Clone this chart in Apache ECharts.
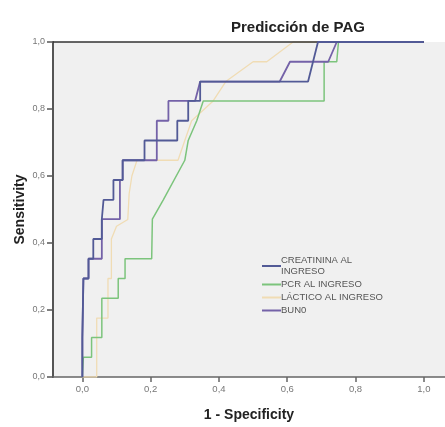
<!DOCTYPE html>
<html>
<head>
<meta charset="utf-8">
<script src="https://cdn.jsdelivr.net/npm/echarts@6/dist/echarts.min.js"></script>
<style>
  html, body { margin: 0; padding: 0; background: #fff; }
  #chart { width: 445px; height: 427px; }
</style>
</head>
<body>
<div id="chart"></div>
<script>
// nombres de las curvas (leyenda)
const seriesNames = ['CREATININA AL INGRESO', 'PCR AL INGRESO', 'LÁCTICO AL INGRESO', 'BUN0'];

// curvas ROC: 1 - especificidad (x) y sensibilidad (y)
const creatininaX = [0, 0, 0.003, 0.003, 0.018, 0.018, 0.032, 0.032, 0.057, 0.057, 0.062, 0.062, 0.091, 0.091, 0.118, 0.118, 0.182, 0.182, 0.278, 0.278, 0.31, 0.31, 0.345, 0.345, 0.661, 0.69, 1.0];
const creatininaY = [0, 0.118, 0.118, 0.294, 0.294, 0.353, 0.353, 0.412, 0.412, 0.471, 0.471, 0.529, 0.529, 0.588, 0.588, 0.647, 0.647, 0.706, 0.706, 0.765, 0.765, 0.824, 0.824, 0.882, 0.882, 1.0, 1.0];

const pcrX = [0, 0.003, 0.003, 0.027, 0.027, 0.057, 0.057, 0.105, 0.105, 0.125, 0.125, 0.203, 0.205, 0.237, 0.3, 0.31, 0.335, 0.354, 0.708, 0.708, 0.745, 0.75, 1.0];
const pcrY = [0, 0, 0.059, 0.059, 0.118, 0.118, 0.235, 0.235, 0.294, 0.294, 0.353, 0.353, 0.471, 0.529, 0.647, 0.706, 0.765, 0.824, 0.824, 0.941, 0.941, 1.0, 1.0];

const lacticoX = [0, 0.042, 0.042, 0.075, 0.075, 0.085, 0.085, 0.1, 0.133, 0.137, 0.145, 0.16, 0.28, 0.3, 0.32, 0.383, 0.42, 0.5, 0.54, 0.617, 1.0];
const lacticoY = [0, 0, 0.176, 0.176, 0.294, 0.294, 0.412, 0.45, 0.47, 0.547, 0.6, 0.647, 0.647, 0.706, 0.765, 0.824, 0.882, 0.941, 0.941, 1.0, 1.0];

const bunX = [0, 0, 0.003, 0.003, 0.018, 0.018, 0.057, 0.057, 0.11, 0.11, 0.118, 0.118, 0.218, 0.218, 0.252, 0.252, 0.33, 0.345, 0.578, 0.608, 0.72, 0.745, 1.0];
const bunY = [0, 0.118, 0.118, 0.294, 0.294, 0.353, 0.353, 0.471, 0.471, 0.588, 0.588, 0.647, 0.647, 0.765, 0.765, 0.824, 0.824, 0.882, 0.882, 0.941, 0.941, 1.0, 1.0];

// marcas de los ejes
const xTicks = [0, 0.2, 0.4, 0.6, 0.8, 1.0];

const pairs = (xs, ys) => xs.map((x, i) => [x, ys[i]]);
const comma = v => v.toFixed(1).replace('.', ',');

const chart = echarts.init(document.getElementById('chart'));

const lineSeries = (name, xs, ys, color, width, z) => ({
  name: name,
  type: 'line',
  data: pairs(xs, ys),
  showSymbol: false,
  symbol: 'none',
  z: z,
  lineStyle: { color: color, width: width },
  itemStyle: { color: color },
  animation: false
});

const option = {
  backgroundColor: '#fff',
  textStyle: { fontFamily: 'Liberation Sans, Arial, sans-serif' },
  title: {
    text: 'Predicción de PAG',
    left: 226,
    top: 15,
    textStyle: { fontSize: 15, fontWeight: 'bold', color: '#222' }
  },
  legend: {
    orient: 'vertical',
    left: 257,
    top: 250,
    icon: 'rect',
    itemWidth: 19,
    itemHeight: 2,
    itemGap: 2,
    data: seriesNames,
    formatter: n => n === 'CREATININA AL INGRESO' ? 'CREATININA AL\nINGRESO' : n,
    textStyle: { fontSize: 9.5, color: '#555', lineHeight: 11, padding: [0, 0, 0, -5] }
  },
  grid: {
    left: 53,
    top: 42,
    right: 0,
    bottom: 44,
    show: true,
    backgroundColor: '#f0f0f0',
    borderWidth: 0
  },
  xAxis: {
    type: 'value',
    min: -0.086,
    max: 1.062,
    name: '1 - Specificity',
    nameLocation: 'middle',
    nameGap: 31,
    nameMoveOverlap: false,
    nameTextStyle: { fontSize: 14, fontWeight: 'bold', color: '#222' },
    axisLine: { show: true, onZero: false, lineStyle: { color: '#666', width: 1.5 } },
    axisTick: { show: true, customValues: xTicks, length: 5, lineStyle: { color: '#666', width: 1.5 } },
    axisLabel: { customValues: xTicks, formatter: comma, fontSize: 9.5, color: '#777', margin: 7 },
    splitLine: { show: false }
  },
  yAxis: {
    type: 'value',
    min: 0,
    max: 1,
    interval: 0.2,
    name: 'Sensitivity',
    nameLocation: 'middle',
    nameGap: 26,
    nameMoveOverlap: false,
    nameTextStyle: { fontSize: 14, fontWeight: 'bold', color: '#222' },
    axisLine: { show: true, onZero: false, lineStyle: { color: '#555', width: 2 } },
    axisTick: { show: true, length: 6, lineStyle: { color: '#555', width: 1.5 } },
    axisLabel: { formatter: comma, fontSize: 9, color: '#777', margin: 8 },
    splitLine: { show: false }
  },
  series: [
    Object.assign(lineSeries(seriesNames[0], creatininaX, creatininaY, '#525a96', 1.8, 5), {
      // línea superior del marco en sensibilidad 1
      markLine: {
        silent: true,
        symbol: 'none',
        label: { show: false },
        lineStyle: { color: '#333', width: 1.5, type: 'solid' },
        data: [[{ coord: [-0.086, 1] }, { coord: [1, 1] }]]
      }
    }),
    lineSeries(seriesNames[1], pcrX, pcrY, '#7cc47c', 1.5, 3),
    lineSeries(seriesNames[2], lacticoX, lacticoY, '#f0dcb4', 1.3, 2),
    lineSeries(seriesNames[3], bunX, bunY, '#7462a8', 1.8, 4)
  ]
};

chart.setOption(option);
</script>
</body>
</html>
